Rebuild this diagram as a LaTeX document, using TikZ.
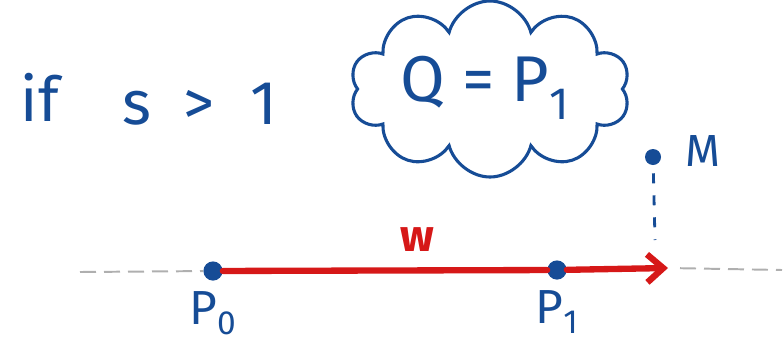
\documentclass[tikz,border=0pt]{standalone}
\usepackage{fontspec}
\setmainfont{Fira Sans}
\usetikzlibrary{arrows.meta,positioning,shapes.symbols}
\definecolor{InkBlue}{RGB}{22,76,150}
\definecolor{InkRed}{RGB}{214,24,24}
\definecolor{InkGray}{RGB}{175,175,175}

\begin{document}
\begin{tikzpicture}[
    x=0.25mm, y=-0.25mm,
    inkbig/.style={text=InkBlue, inner sep=0pt, font=\fontsize{44}{48}\selectfont},
    inklabel/.style={text=InkBlue, inner sep=0pt, font=\fontsize{34}{38}\selectfont},
    inkdot/.style={circle, fill=InkBlue, minimum size=4.8mm, inner sep=0pt},
    thought/.style={cloud, cloud puffs=10, cloud ignores aspect, draw=InkBlue, line width=2.2pt, inner sep=0pt, minimum width=70mm, minimum height=44mm},
    segment/.style={draw=InkRed, line width=4.5pt, line cap=round},
    ray/.style={segment, -{Straight Barb[length=4mm, width=7mm]}},
    axis/.style={draw=InkGray, line width=1.4pt, dash pattern=on 4mm off 2mm},
    drop/.style={draw=InkBlue, line width=2pt, dash pattern=on 2.5mm off 3mm}
  ]
    \useasboundingbox (0,0) rectangle (784,342);
    \node[inkbig] (if) at (40,97) {if};
    \node[inkbig] (cond) at (200,104) {s\hspace{8mm}>\hspace{9mm}1};
    \node[thought] (rule) at (490,89) {};
    \node[inkbig, font=\fontsize{46}{50}\selectfont] (eq) at (485,88) {Q = P\textsubscript{1}};
    \node[inkdot] (P0) at (213,271) {};
    \node[inkdot] (P1) at (557,270) {};
    \node[inkdot, minimum size=4mm] (M) at (653,157) {};
    \node[inklabel, below=2.5mm of P0] (P0lbl) {P\textsubscript{0}};
    \node[inklabel, below=2.5mm of P1] (P1lbl) {P\textsubscript{1}};
    \node[inklabel, font=\fontsize{32}{36}\selectfont, right=6mm of M, yshift=1.5mm] (Mlbl) {M};
    \coordinate (tip) at (668,268);
    \coordinate (foot) at (655,240);
    \coordinate (west) at (80,272);
    \coordinate (east) at (782,270);
    \draw[axis] (west) -- (P0);
    \draw[axis, shorten <=3mm] (tip) -- (east);
    \draw[drop, shorten <=2mm] (M) -- (foot);
    \draw[segment] (P0) -- node[pos=0.6, above=4mm, text=InkRed, inner sep=0pt, font=\fontsize{32}{36}\selectfont\bfseries] (w) {w} (P1);
    \draw[ray] (P1) -- (tip);
\end{tikzpicture}
\end{document}
